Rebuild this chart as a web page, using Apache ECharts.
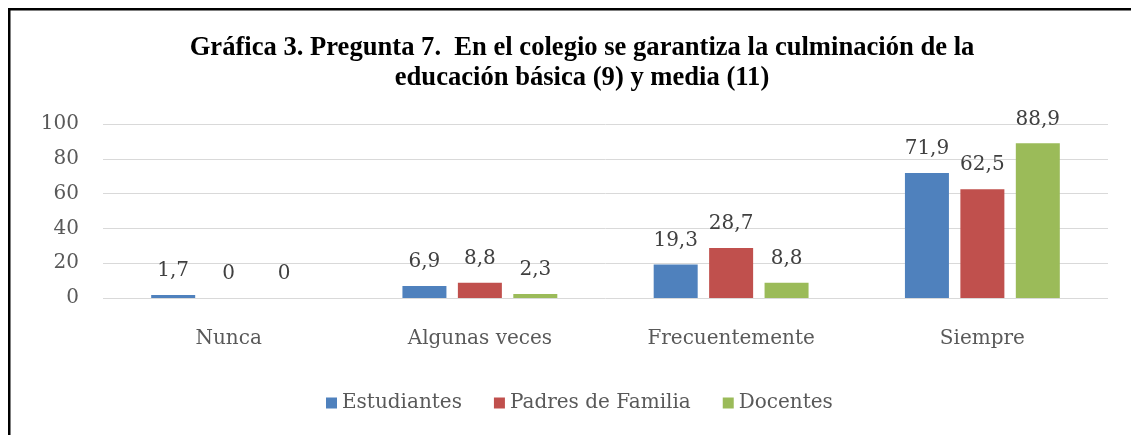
<!DOCTYPE html>
<html>
<head>
<meta charset="utf-8">
<script src="https://cdn.jsdelivr.net/npm/echarts@6/dist/echarts.min.js"></script>
<style>
html,body{margin:0;padding:0;background:#fff;}
#chart{width:1131px;height:435px;}
</style>
</head>
<body>
<div id="chart"></div>
<script>
const titleText = 'Gráfica 3. Pregunta 7.  En el colegio se garantiza la culminación de la\neducación básica (9) y media (11)';
const categories = ['Nunca', 'Algunas veces', 'Frecuentemente', 'Siempre'];
const seriesNames = ['Estudiantes', 'Padres de Familia', 'Docentes'];
const estudiantes = [1.7, 6.9, 19.3, 71.9];
const padres = [0, 8.8, 28.7, 62.5];
const docentes = [0, 2.3, 8.8, 88.9];
const yTicks = [0, 20, 40, 60, 80, 100];
const colors = ['#4f81bd', '#c0504d', '#9bbb59'];

const serif = 'DejaVu Serif';
const chart = echarts.init(document.getElementById('chart'));
const values = [estudiantes, padres, docentes];
chart.setOption({
  animation: false,
  color: colors,
  title: {
    text: titleText,
    left: 577,
    top: 28,
    textAlign: 'center',
    textStyle: {
      fontFamily: 'Liberation Serif',
      fontWeight: 'bold',
      fontSize: 26.6,
      lineHeight: 30,
      color: '#000'
    }
  },
  graphic: [
    {type: 'rect', shape: {x: 8, y: 8, width: 1123, height: 2.5}, style: {fill: '#000'}},
    {type: 'rect', shape: {x: 8, y: 8, width: 2.5, height: 427}, style: {fill: '#000'}}
  ],
  legend: {
    data: seriesNames,
    left: 321,
    top: 388,
    itemWidth: 11,
    itemHeight: 11,
    itemGap: 32,
    icon: 'rect',
    textStyle: {fontFamily: serif, fontSize: 20, color: '#595959'}
  },
  grid: {left: 103, right: 23, top: 124, bottom: 137},
  xAxis: {
    type: 'category',
    data: categories,
    axisLine: {show: false},
    axisTick: {show: false},
    axisLabel: {fontFamily: serif, fontSize: 20, color: '#595959', margin: 31}
  },
  yAxis: {
    type: 'value',
    min: yTicks[0],
    max: yTicks[yTicks.length - 1],
    interval: 20,
    axisLine: {show: false},
    axisTick: {show: false},
    axisLabel: {fontFamily: serif, fontSize: 20, color: '#595959', margin: 24},
    splitLine: {lineStyle: {color: '#d9d9d9', width: 1}}
  },
  series: seriesNames.map((name, i) => ({
    name: name,
    type: 'bar',
    data: values[i],
    barWidth: 44,
    barGap: '26%',
    label: {
      show: true,
      position: 'top',
      distance: 14,
      fontFamily: serif,
      fontSize: 20,
      color: '#404040',
      formatter: p => String(p.value).replace('.', ',')
    }
  }))
});
</script>
</body>
</html>
